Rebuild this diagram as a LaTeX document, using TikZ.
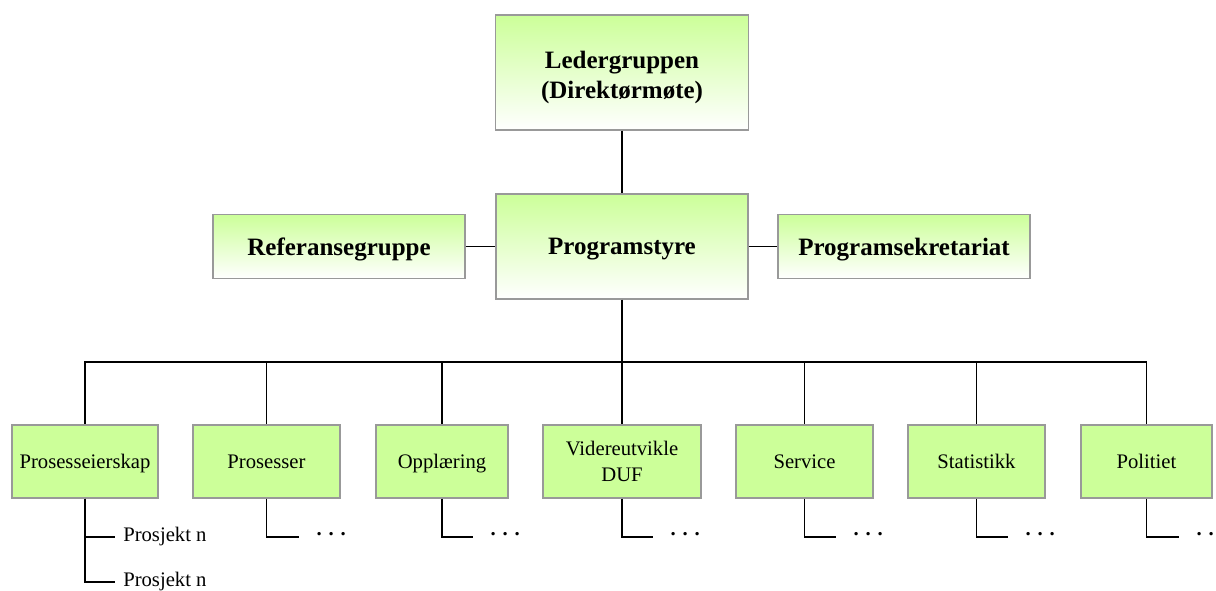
\documentclass[tikz,border=0pt]{standalone}
\usepackage{fontspec}
\setmainfont{Liberation Serif}
\usetikzlibrary{positioning}
\definecolor{lightlime}{HTML}{CCFF99}
\definecolor{boxgray}{HTML}{999999}

\begin{document}
\begin{tikzpicture}[x=0.75pt,y=-0.75pt,
  box/.style={draw=boxgray,line width=1.1pt,align=center,inner sep=2pt},
  lead/.style={box,top color=lightlime,bottom color=white,font=\fontsize{18.75}{22.5}\selectfont\bfseries},
  unit/.style={box,fill=lightlime,minimum height=54.75pt,font=\fontsize{15.5}{19.5}\selectfont},
  flat/.style={text depth=0pt},
  sub/.style={anchor=west,inner xsep=6pt,font=\fontsize{15.5}{19.5}\selectfont},
  more/.style={sub,inner xsep=13pt,text height=1pt,text depth=4pt,font=\fontsize{15.5}{19.5}\selectfont\bfseries},
  ln/.style={line width=1.1pt}]
\useasboundingbox (0,0) rectangle (1216,590);
% top level
\node[lead,minimum width=189.75pt,minimum height=86.25pt] (lg) at (622,72.5) {\rule{0pt}{20.5pt}Ledergruppen\\(Direktørmøte)};
\node[lead,flat,minimum width=189pt,minimum height=78.75pt] (ps) at (622,246.5) {Programstyre};
\node[lead,flat,minimum width=189pt,minimum height=48pt] (ref) at (339,246.5) {Referansegruppe};
\node[lead,flat,minimum width=189pt,minimum height=48pt] (sek) at (904,246.5) {Programsekretariat};
\draw[ln] (lg) -- (ps);
\draw[ln] (ref) -- (ps); \draw[ln] (ps) -- (sek);
% units
\node[unit,flat,minimum width=109.5pt] (b1) at (85,461.5) {Prosesseierskap};
\node[unit,flat,minimum width=110.25pt] (b2) at (266.5,461.5) {Prosesser};
\node[unit,flat,minimum width=99pt] (b3) at (442,461.5) {Opplæring};
\node[unit,minimum width=118.5pt] (b4) at (622,461.5) {Videreutvikle\\DUF};
\node[unit,flat,minimum width=102.75pt] (b5) at (804.5,461.5) {Service};
\node[unit,flat,minimum width=102.75pt] (b6) at (976.5,461.5) {Statistikk};
\node[unit,flat,minimum width=98.25pt] (b7) at (1146.5,461.5) {Politiet};
\coordinate (jn) at (622,362);
\draw[ln] (ps) -- (jn);
\draw[ln] (jn) -| (b1.north); \draw[ln] (jn) -| (b2.north); \draw[ln] (jn) -| (b3.north);
\draw[ln] (jn) -- (b4.north); \draw[ln] (jn) -| (b5.north); \draw[ln] (jn) -| (b6.north);
\draw[ln] (jn) -| (b7.north);
% projects
\node[sub] (pj1) at (115,537) {Prosjekt n};
\node[sub] (pj2) at (115,582) {Prosjekt n};
\draw[ln] (b1.south) |- (pj1.west); \draw[ln] (b1.south) |- (pj2.west);
\node[more] (m2) at (299,537) {. . .};
\node[more] (m3) at (473,537) {. . .};
\node[more] (m4) at (653,537) {. . .};
\node[more] (m5) at (836,537) {. . .};
\node[more] (m6) at (1008,537) {. . .};
\node[more] (m7) at (1179,537) {. . .};
\draw[ln] (b2.south) |- (m2.west); \draw[ln] (b3.south) |- (m3.west); \draw[ln] (b4.south) |- (m4.west);
\draw[ln] (b5.south) |- (m5.west); \draw[ln] (b6.south) |- (m6.west); \draw[ln] (b7.south) |- (m7.west);
\end{tikzpicture}
\end{document}
